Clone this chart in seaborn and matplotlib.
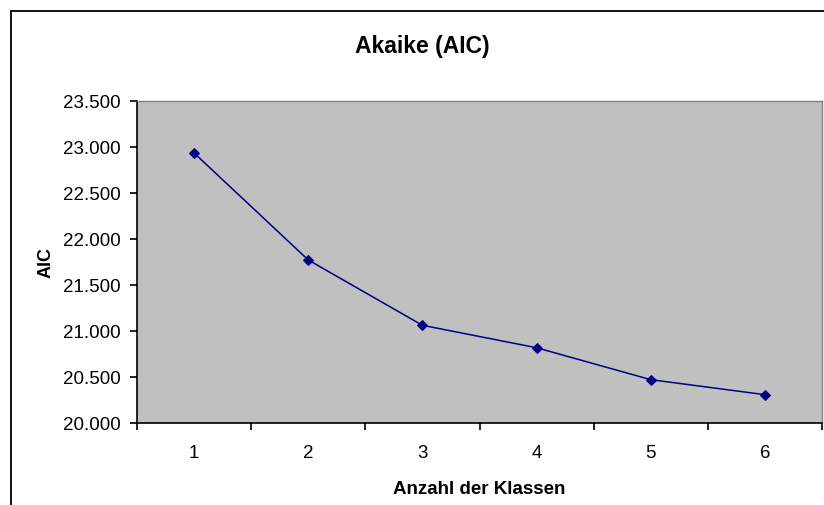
import matplotlib
matplotlib.use("Agg")
import matplotlib.pyplot as plt
from matplotlib.lines import Line2D
from matplotlib.ticker import FuncFormatter, FixedLocator
import seaborn as sns
import pandas as pd

# Data
klassen = [1, 2, 3, 4, 5, 6]
aic = [22935, 21772, 21062, 20818, 20471, 20308]
y_ticks = [20000, 20500, 21000, 21500, 22000, 22500, 23000, 23500]

df = pd.DataFrame({"Anzahl der Klassen": klassen, "AIC": aic})

sns.set_theme(style="white")
plt.rcParams["font.family"] = ["Liberation Sans", "DejaVu Sans"]

W, H = 824, 506
fig = plt.figure(figsize=(W / 100, H / 100), dpi=100, facecolor="white")
ax = fig.add_axes([137 / W, 1 - 424 / H, (822 - 137) / W, (424 - 102) / H])
ax.set_facecolor("#C0C0C0")

sns.lineplot(data=df, x="Anzahl der Klassen", y="AIC", ax=ax, color="#000080",
             linewidth=1.1, marker="D", markersize=4.8, markeredgecolor="#000080",
             markerfacecolor="#000080")

ax.set_xlim(0.5, 6.5)
ax.set_ylim(20000, 23500)
ax.yaxis.set_major_locator(FixedLocator(y_ticks))
ax.yaxis.set_major_formatter(FuncFormatter(lambda v, p: f"{v:,.0f}".replace(",", ".")))
ax.xaxis.set_major_locator(FixedLocator(klassen))
ax.xaxis.set_minor_locator(FixedLocator([k - 0.5 for k in klassen] + [6.5]))
ax.tick_params(axis="x", which="major", length=0, pad=15, labelsize=13.5, colors="black")
ax.tick_params(axis="x", which="minor", length=5, width=1.2, direction="out", color="black", bottom=True)
ax.tick_params(axis="y", which="major", length=5, width=1.2, direction="out", pad=7,
               labelsize=13.5, colors="black", left=True)

for s in ["left", "bottom"]:
    ax.spines[s].set_color("black")
    ax.spines[s].set_linewidth(1.2)
for s in ["top", "right"]:
    ax.spines[s].set_color("#808080")
    ax.spines[s].set_linewidth(1.0)
    ax.spines[s].set_visible(True)

ax.set_xlabel("Anzahl der Klassen", fontsize=13.5, fontweight="bold", labelpad=14, color="black")
ax.set_ylabel("AIC", fontsize=13, fontweight="bold", labelpad=6, color="black")
ax.grid(False)

fig.text(422 / W, 1 - 47 / H, "Akaike (AIC)", ha="center", va="center",
         fontsize=16.5, fontweight="bold", color="black")

# outer chart border (left and top visible)
fig.add_artist(Line2D([11 / W, 11 / W], [0, 1 - 12 / H], transform=fig.transFigure,
                      color="black", linewidth=1.3))
fig.add_artist(Line2D([11 / W, 1], [1 - 12 / H, 1 - 12 / H], transform=fig.transFigure,
                      color="black", linewidth=1.3))

fig.savefig("out.png", dpi=100, facecolor="white")
